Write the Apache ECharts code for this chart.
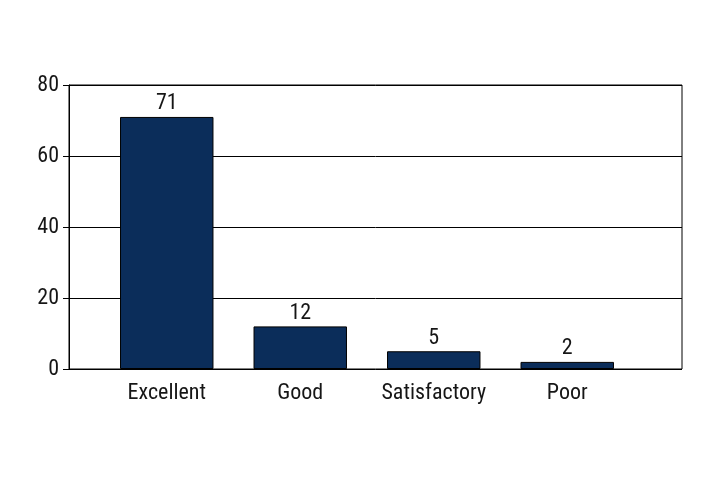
<!DOCTYPE html>
<html>
<head>
<meta charset="utf-8">
<script src="https://cdn.jsdelivr.net/npm/echarts@6/dist/echarts.min.js"></script>
<style>
html, body { margin: 0; padding: 0; background: #fff; }
#chart { width: 720px; height: 480px; }
</style>
</head>
<body>
<div id="chart"></div>
<script>
var categories = ['Excellent', 'Good', 'Satisfactory', 'Poor'];
var ratings = [71, 12, 5, 2];
var yMin = 0, yMax = 80, yStep = 20;

var fontName = '"Roboto Condensed", "Noto Sans Condensed", "Open Sans Condensed", "Liberation Sans Narrow", "DejaVu Sans Condensed", Roboto, sans-serif';
var txt = { color: '#161616', fontFamily: fontName, fontSize: 22 };
var chart = echarts.init(document.getElementById('chart'));

var option = {
    backgroundColor: '#fff',
    animation: false,
    grid: [
        // frame + y axis
        { left: 69, top: 85, width: 613, height: 284, show: true, borderColor: '#000', borderWidth: 1 },
        // bars sit a bit inside the frame
        { left: 100, top: 85, width: 534, height: 284 }
    ],
    xAxis: [{
        gridIndex: 0, type: 'category', data: categories, show: false
    }, {
        gridIndex: 1, type: 'category', data: categories,
        axisLine: { show: false },
        axisTick: { show: false },
        axisLabel: Object.assign({ interval: 0, margin: 13 }, txt)
    }],
    yAxis: [{
        gridIndex: 0, type: 'value', min: yMin, max: yMax, interval: yStep,
        axisLine: { show: true, lineStyle: { color: '#000', width: 1 } },
        axisTick: { show: true, length: 6, lineStyle: { color: '#000' } },
        axisLabel: Object.assign({ margin: 10 }, txt),
        splitLine: { show: true, lineStyle: { color: '#000', width: 1 } }
    }, {
        gridIndex: 1, type: 'value', min: yMin, max: yMax, interval: yStep, show: false,
        splitLine: { show: false }
    }],
    series: [{
        type: 'bar',
        xAxisIndex: 1,
        yAxisIndex: 1,
        data: ratings,
        barWidth: '70%',
        itemStyle: { color: '#0b2d5a', borderColor: '#000', borderWidth: 1 },
        label: Object.assign({ show: true, position: 'top', distance: 2 }, txt)
    }]
};

chart.setOption(option);
</script>
</body>
</html>
